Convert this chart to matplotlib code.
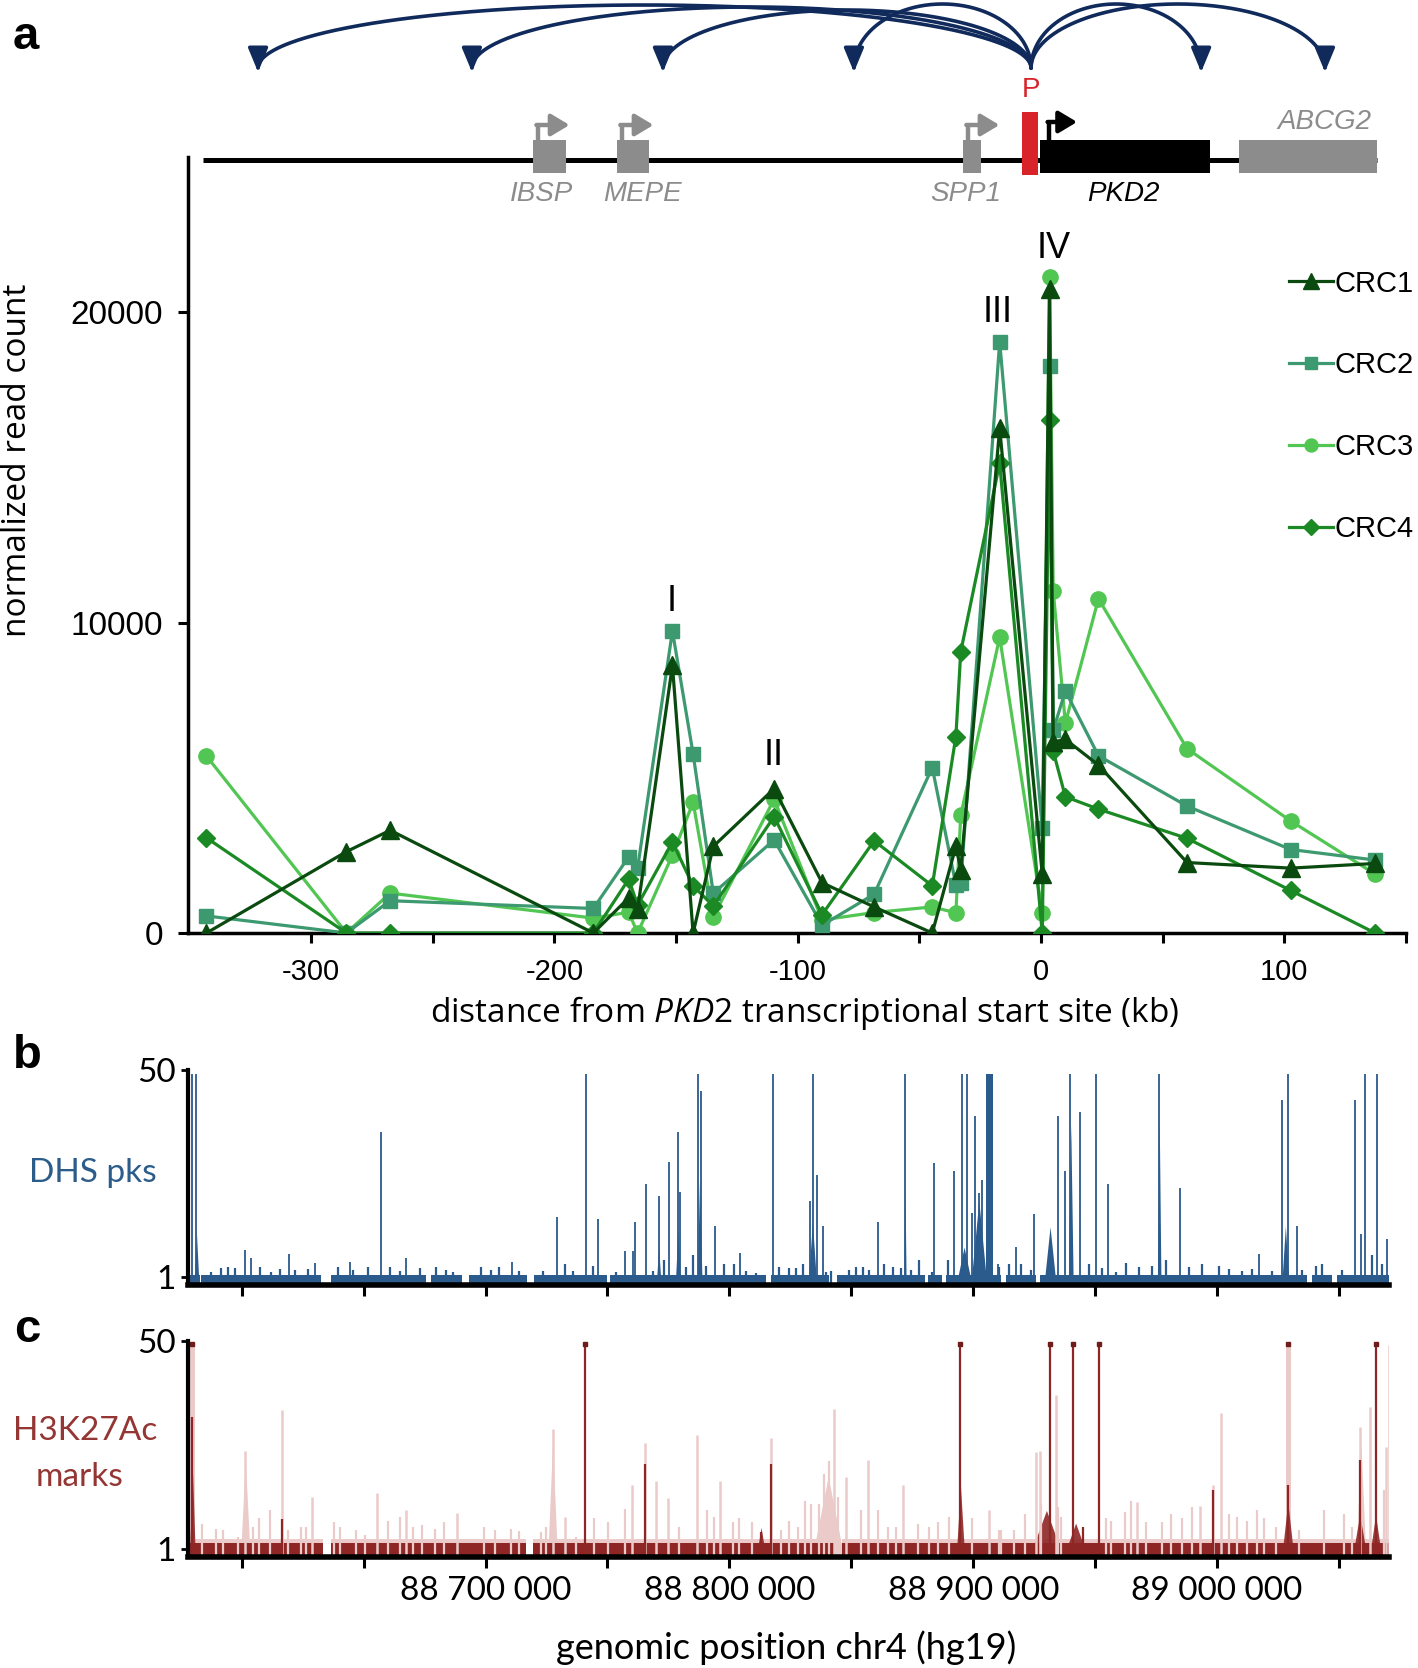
import matplotlib
matplotlib.use("Agg")
import matplotlib.pyplot as plt
import numpy as np
from matplotlib.lines import Line2D
from matplotlib.ticker import FixedLocator, FuncFormatter, NullFormatter

plt.rcParams['font.family'] = ['Liberation Sans', 'DejaVu Sans']
plt.rcParams['axes.unicode_minus'] = False
plt.rcParams['mathtext.fontset'] = 'custom'
plt.rcParams['mathtext.rm'] = 'Open Sans'
plt.rcParams['mathtext.it'] = 'Open Sans:italic'

# ---------------- data: panel a ----------------
dist_kb = [-343, -285.5, -267.5, -184, -169.5, -165.8, -151.5, -143, -134.7, -109.7,
           -90, -68.6, -44.7, -35, -33, -17, 0.5, 3.5, 5, 10, 23.6, 60, 102.6, 137.3]
crc1 = [0, 2620, 3310, 0, 1130, 770, 8620, 0, 2790, 4650, 1620, 840, 0, 2790, 2045,
        16260, 1900, 20750, 6150, 6240, 5410, 2270, 2090, 2240]
crc2 = [550, 0, 1040, 790, 2450, 2100, 9730, 5770, 1280, 3000, 250, 1250, 5330, 1550, 1600,
        19050, 3390, 18280, 6530, 7800, 5710, 4090, 2690, 2350]
crc3 = [5700, 0, 1285, 480, 670, 0, 2510, 4210, 520, 4310, 420, 660, 840, 650, 3790,
        9530, 650, 21150, 11030, 6760, 10770, 5940, 3610, 1900]
crc4 = [3065, 0, 0, 0, 1730, 900, 2930, 1520, 870, 3750, 590, 2970, 1520, 6330, 9060,
        15140, 0, 16520, 5860, 4390, 3990, 3050, 1370, 0]
series_names = ['CRC1', 'CRC2', 'CRC3', 'CRC4']

peak_labels = ['I', 'II', 'III', 'IV']
peak_label_x = [-152, -110, -17.7, 5]
peak_label_y = [10680, 5720, 20000, 22060]

# gene diagram (kb from PKD2 TSS)
gene_names = ['IBSP', 'MEPE', 'SPP1', 'PKD2', 'ABCG2']
gene_start = [-208.8, -174.3, -32.1, -0.4, 81.4]
gene_end = [-195.2, -161.1, -24.7, 69.5, 138.1]
gene_label_x = [-205.5, -164.0, -30.8, 34.0, 116.5]
gene_has_arrow = [True, True, True, True, False]
promoter_span = (-7.8, -1.2)
track_span = (-344.4, 138.1)
loop_source = -4.1
loop_targets = [-321.8, -233.9, -155.4, -76.9, 65.8, 116.7]
loop_tops = [5, 7, 10, 4, 4, 4]

# ---------------- data: panels b, c (kb on chr4 minus 88 000 kb) ----------------
dhs_bg_start = [578, 583.5, 636.8, 677.7, 693.4, 719.7, 751, 817, 844.1, 881.6, 888.9, 913.4, 927.2, 1039, 1049.2]
dhs_bg_end = [582.8, 632.7, 675.8, 690.5, 717.2, 749.7, 815, 840.7, 880.3, 887.2, 911.4, 925.8, 1037, 1047.1, 1070.5]
dhs_peak_pos = [579.6, 581.4, 601.5, 604, 619.3, 629.9, 644.3, 657, 667.2, 710.8, 729.4, 741.3, 746,
                757.3, 760.4, 761.5, 765.9, 771, 775.1, 778.8, 779.8, 787.3, 788.4, 794.3, 804.4,
                818, 833, 834.4, 835.9, 838.5, 860.8, 872, 884, 892.2, 895.4, 897.3, 899.5, 900.7,
                902.2, 903.6, 910, 917.5, 924.8, 934.7, 937.7, 939.8, 943.7, 950.3, 955.3, 976.2,
                984.8, 1017.2, 1026.8, 1029.2, 1032.7, 1056.6, 1059.1, 1060.7, 1065.5, 1069.5]
dhs_peak_val = [49, 49, 7.3, 5.3, 6.3, 4.3, 4.4, 35.4, 5.3, 4.4, 15.2, 49, 14.6,
                7, 7, 14, 23, 20, 28.2, 35.2, 21, 49, 45, 13, 6.5,
                49, 19, 49, 25, 13, 14, 49, 28, 26, 49, 49, 16, 39,
                20.8, 23.9, 4, 8, 15.8, 39, 26, 49, 40, 49, 23, 49,
                22, 6.3, 43, 49, 13, 43, 11, 49, 49, 10]
# broad enrichment envelopes (tent-shaped), and one saturated block
dhs_hump_start = [580.5, 770, 777.8, 786.8, 832.3, 871.5, 893, 899.0, 929.0, 939, 975.5, 1026.5]
dhs_hump_end = [582.5, 772, 780, 788.8, 835.8, 872.5, 899.5, 905.6, 934.0, 941, 977, 1029.5]
dhs_hump_val = [11, 8, 12, 25, 14, 23, 8, 19, 12.8, 37, 40, 13]
dhs_block = (905.2, 908.2, 49)
dhs_small_pos = [587.6, 591.7, 594.4, 597.1, 607.4, 612.2, 615.6, 621.7, 627.2, 639.5, 645.6, 651.8,
                 660.7, 664.8, 673, 679.8, 683.9, 686.6, 698.3, 702.3, 705.7, 713.9, 723.5, 732.4,
                 735.8, 744, 753.6, 768.6, 773.4, 782.3, 785, 790.5, 798, 802, 806.8, 810.9, 820.5,
                 824.6, 827.3, 830, 839.6, 841.7, 849.2, 851.9, 854.6, 857.4, 863.5, 866.9, 870.4,
                 874.5, 877.6, 883.3, 889.5, 910.7, 914.8, 919.5, 923.6, 947.5, 953, 958.5, 962.8,
                 968, 973.5, 979, 988.5, 994, 1000.8, 1004.9, 1010.4, 1014.5, 1022.7, 1035, 1040.4,
                 1043.2, 1051.4, 1063.7, 1067.8]
dhs_small_val = [2.2, 3.0, 3.2, 3.0, 3.2, 2.2, 2.7, 2.6, 2.7, 3.2, 2.6, 3.2,
                 3.2, 2.4, 3.0, 3.2, 2.6, 2.2, 3.2, 2.6, 3.2, 2.4, 2.4, 4.0,
                 2.4, 3.4, 2.0, 2.4, 4.9, 3.2, 6.1, 3.6, 3.9, 3.9, 2.4, 1.8, 3.2,
                 3.0, 3.0, 3.9, 2.2, 2.4, 2.6, 3.2, 3.2, 2.6, 3.9, 3.2, 3.0,
                 2.6, 4.9, 2.0, 4.9, 3.2, 3.9, 3.9, 2.6, 3.9, 3.0, 2.0, 4.2,
                 3.2, 3.4, 4.9, 3.2, 3.9, 3.4, 2.7, 2.4, 2.7, 2.4, 2.6, 3.4,
                 3.9, 2.6, 6.1, 3.9]

h3_bg_start = [578, 636.8, 719.4, 846]
h3_bg_end = [633.2, 716.7, 843.3, 1070.5]
h3_dark_pos = [579.5, 616.5, 740.8, 765.2, 812.9, 817.2, 894.7, 931.3, 941.1, 944.9, 951.4, 998.4,
               1029.2, 1058.6, 1065]
h3_dark_val = [32, 8, 49, 21, 5, 21, 49, 49, 49, 6, 49, 14.8, 16, 22, 49]
h3_dark_hump_start = [923, 937, 893.0, 1026.5, 1055.5, 1062.5, 811.0, 578.6]
h3_dark_hump_end = [937, 947, 896.5, 1031.5, 1061.5, 1067.5, 815.0, 581.0]
h3_dark_hump_val = [10, 7, 16, 12, 9, 9, 6, 20]
h3_sat_pos = [579.5, 740.8, 894.7, 931.3, 941.1, 951.4, 1029.2, 1065]
h3_pink_pos = [601.5, 616.5, 628.8, 655.5, 667.3, 688.5, 727.5, 732.6, 760.1, 765.2, 770, 774.9,
               786.9, 796.3, 817.2, 842.8, 847.8, 856.8, 871, 906.6, 933.9, 925.7, 927.5, 967,
               993.2, 998.4, 1001.8, 1058.6, 1062.6, 1069.2, 1070.5]
h3_pink_val = [24, 33.6, 13.2, 14, 10, 9.5, 29.3, 8.5, 16, 25.8, 17, 13,
               27.7, 17, 27, 34, 18, 22, 16, 10, 37.2, 23.8, 24, 12,
               11, 16, 33, 29.7, 34.4, 25, 49]
h3_pink_hump_start = [599.5, 725.5, 834, 1057]
h3_pink_hump_end = [603.5, 729.5, 847, 1061]
h3_pink_hump_val = [22, 26, 18, 26]
h3_pink_block_start = [578.3, 1028.2]
h3_pink_block_end = [580.8, 1030.5]
h3_small_pos = [583.7, 589.6, 592.3, 598.5, 604.6, 607, 611.5, 619, 624.5, 626.5, 637.7, 640.2,
                646.7, 650.4, 660, 664.8, 670.2, 674.1, 679.1, 682.8, 699.3, 703.7, 710.5, 713.9,
                722.8, 724.9, 737.2, 744.3, 750.1, 757, 779.2, 790.8, 793.9, 801.4, 803.8, 809.3,
                821.2, 824.3, 828, 831.1, 833.5, 836.9, 838.9, 841, 844.4, 854, 860.8, 864.9,
                868.3, 877.2, 882, 885.4, 890.2, 899.7, 910.7, 911.3, 916.8, 921.3, 927.7, 934.6,
                935.9, 954.4, 956.4, 962.3, 964.6, 970.8, 977.6, 981, 985.8, 989.9, 1004.9, 1008.3,
                1012.4, 1016.5, 1019.3, 1024.1, 1033.6, 1043.9, 1052, 1055.5, 1068.4]
h3_small_val = [6.9, 5.7, 5.3, 3.8, 6.1, 8.1, 10, 5.3, 6.1, 6.1, 7.3, 6.1,
                5.3, 4.1, 7.6, 8.4, 6.1, 6.5, 5.7, 7.3, 6.1, 5.3, 5.5, 5.1,
                4.9, 6.1, 3.8, 8.1, 7.3, 10.4, 6.1, 10, 8.4, 7.3, 8.1, 7.3,
                5.3, 7.6, 6.1, 12.3, 11.6, 11.6, 18.6, 21.6, 13.2, 10, 10, 6.1,
                6.1, 6.9, 6.1, 7.3, 8.4, 8.1, 5.3, 5.3, 5.3, 9.2, 11.6, 10.8,
                8.4, 8.1, 7.6, 9.6, 12.3, 7.3, 7.3, 9.2, 8.1, 10.8, 9.2, 8.4,
                7.6, 10, 8.1, 6.1, 5.3, 10, 9.2, 6.1, 14.8]

genome_ticks_major = [88700000, 88800000, 88900000, 89000000]
genome_ticks_minor = [88600000, 88650000, 88750000, 88850000, 88950000, 89050000]

# ---------------- figure ----------------
W, H = 1418, 1668
fig = plt.figure(figsize=(W / 100, H / 100), dpi=100)


def px_axes(x0, y0, x1, y1):
    return fig.add_axes([x0 / W, 1 - y1 / H, (x1 - x0) / W, (y1 - y0) / H])


XLIM_A = (-350.6, 150.0)
colors = {'CRC1': '#0a4a0f', 'CRC2': '#3d9970', 'CRC3': '#52c652', 'CRC4': '#1b8a24'}
markers = {'CRC1': ('^', 13), 'CRC2': ('s', 10.5), 'CRC3': ('o', 11), 'CRC4': ('D', 9)}
values = {'CRC1': crc1, 'CRC2': crc2, 'CRC3': crc3, 'CRC4': crc4}

ax = px_axes(188, 157, 1406, 933)
for name in ['CRC3', 'CRC2', 'CRC4', 'CRC1']:
    m, ms = markers[name]
    ax.plot(dist_kb, values[name], color=colors[name], lw=2.3, marker=m, ms=ms,
            mec=colors[name], mfc=colors[name], zorder=3)
ax.set_xlim(*XLIM_A)
ax.set_ylim(0, 25000)
for s in ['top', 'right']:
    ax.spines[s].set_visible(False)
for s in ['left', 'bottom']:
    ax.spines[s].set_linewidth(2.5)
ax.xaxis.set_major_locator(FixedLocator([-300, -200, -100, 0, 100]))
ax.xaxis.set_minor_locator(FixedLocator([-250, -150, -50, 50, 150]))
ax.yaxis.set_major_locator(FixedLocator([0, 10000, 20000]))
ax.tick_params(axis='both', which='both', direction='out', length=7, width=2.2,
               labelsize=21, colors='black')
ax.tick_params(axis='y', labelsize=24, pad=11)
ax.tick_params(axis='x', pad=11)
for t, x, y in zip(peak_labels, peak_label_x, peak_label_y):
    ax.text(x, y, t, ha='center', va='center', fontsize=26, color='black')

handles = []
for name in series_names:
    m, ms = markers[name]
    handles.append(Line2D([], [], color=colors[name], lw=2.3, marker=m, ms=ms * 0.85,
                          mec=colors[name], mfc=colors[name]))
ax.legend(handles, series_names, loc='upper left', bbox_to_anchor=(0.904, 0.855),
          frameon=False, fontsize=21, handlelength=1.5, handletextpad=0.05,
          labelspacing=1.85, borderaxespad=0, borderpad=0)

fig.text(805 / W, 1 - 1013 / H, 'distance from $\\mathit{PKD2}$ transcriptional start site (kb)',
         ha='center', va='center', fontsize=24, family='Open Sans')
fig.text(18 / W, 1 - 460 / H, 'normalized read count', rotation=90, ha='center', va='center',
         fontsize=24, family='Open Sans')

# ---------- gene diagram overlay ----------
axg = px_axes(188, 0, 1406, 200)
axg.set_xlim(*XLIM_A)
axg.set_ylim(200, 0)
axg.axis('off')
GRAY = '#8c8c8c'
NAVY = '#0f2a5b'
axg.plot(track_span, [160, 160], color='black', lw=3.6, solid_capstyle='butt', zorder=1)
for name, s, e, lx, arr in zip(gene_names, gene_start, gene_end, gene_label_x, gene_has_arrow):
    c = 'black' if name == 'PKD2' else GRAY
    axg.add_patch(plt.Rectangle((s, 140), e - s, 33, color=c, zorder=2, lw=0))
    if name == 'ABCG2':
        axg.text(lx, 122, name, ha='center', va='center', fontsize=20, style='italic', color=GRAY)
    else:
        axg.text(lx, 194, name, ha='center', va='center', fontsize=20, style='italic',
                 color=c)
    if arr:
        off, ln, yy = (3.7, 11.5, 122) if name == 'PKD2' else (2.0, 13.0, 125)
        xv = s + off
        axg.plot([xv, xv], [140, yy], color=c, lw=3.2, solid_capstyle='butt', zorder=2)
        axg.annotate('', xy=(xv + ln, yy), xytext=(xv - 0.6, yy),
                     arrowprops=dict(arrowstyle='-|>,head_length=0.5,head_width=0.3',
                                     color=c, lw=3.2, shrinkA=0, shrinkB=0,
                                     mutation_scale=22), zorder=2)
axg.add_patch(plt.Rectangle((promoter_span[0], 112), promoter_span[1] - promoter_span[0], 63,
                            color='#d8232a', lw=0, zorder=3))
axg.text(loop_source, 90, 'P', ha='center', va='center', fontsize=20, color='#d8232a')

base = 68
for xt, top in zip(loop_targets, loop_tops):
    xm = (xt + loop_source) / 2
    a = (xt - loop_source) / 2
    t = np.linspace(0, np.pi, 200)
    xs = xm - a * np.cos(t)
    ys = base - (base - top) * np.sin(t)
    axg.plot(xs, ys, color=NAVY, lw=2.6, solid_capstyle='round', clip_on=False)
    axg.annotate('', xy=(xt, 72), xytext=(xt, 56),
                 arrowprops=dict(arrowstyle='-|>,head_length=0.6,head_width=0.25',
                                 color=NAVY, lw=2.6, shrinkA=0, shrinkB=0, mutation_scale=24))

# ---------- track panels ----------
def bp(v):
    return 88_000_000 + np.asarray(v, dtype=float) * 1000.0


def tent(axt, s, e, v, color, alpha=1.0):
    axt.fill_between(bp([s, (s + e) / 2, e]), -1, [-1, v, -1], color=color, lw=0, alpha=alpha)


XLIM_G = (88_578_000, 89_070_500)


def style_track(axt, labels):
    axt.set_xlim(*XLIM_G)
    axt.set_ylim(-1, 50)
    for s in ['top', 'right']:
        axt.spines[s].set_visible(False)
    axt.spines['left'].set_linewidth(3)
    axt.spines['bottom'].set_linewidth(4)
    axt.xaxis.set_major_locator(FixedLocator(genome_ticks_major))
    axt.xaxis.set_minor_locator(FixedLocator(genome_ticks_minor))
    axt.yaxis.set_major_locator(FixedLocator([1, 50]))
    axt.tick_params(axis='x', which='both', direction='out', length=8, width=2.2,
                    labelsize=24, pad=6)
    axt.tick_params(axis='y', direction='out', length=5, width=2, labelsize=24, pad=4)
    for lab in axt.get_yticklabels():
        lab.set_family('Lato')
    if labels:
        axt.xaxis.set_major_formatter(FuncFormatter(lambda v, p: f"{int(v):,}".replace(',', ' ')))
        for lab in axt.get_xticklabels():
            lab.set_family('Lato')
    else:
        axt.xaxis.set_major_formatter(NullFormatter())


BLUE = '#2b5b8c'
axb = px_axes(188, 1070, 1389, 1285)
for s, e in zip(dhs_bg_start, dhs_bg_end):
    axb.fill_between(bp([s, e]), -1, 1.4, color=BLUE, lw=0)
for s, e, v in zip(dhs_hump_start, dhs_hump_end, dhs_hump_val):
    tent(axb, s, e, v, BLUE)
axb.fill_between(bp(dhs_block[:2]), -1, dhs_block[2], color=BLUE, lw=0)
axb.vlines(bp(dhs_small_pos), -1, dhs_small_val, color=BLUE, lw=1.6)
axb.vlines(bp(dhs_peak_pos), -1, dhs_peak_val, color=BLUE, lw=1.3)
style_track(axb, False)

PINK = '#ebcaca'
DARK = '#8e2626'
axc = px_axes(188, 1341, 1389, 1557)
for s, e in zip(h3_bg_start, h3_bg_end):
    axc.fill_between(bp([s, e]), -1, 3.2, color=PINK, lw=0)
for s, e, v in zip(h3_pink_hump_start, h3_pink_hump_end, h3_pink_hump_val):
    tent(axc, s, e, v, PINK)
for s, e in zip(h3_pink_block_start, h3_pink_block_end):
    axc.fill_between(bp([s, e]), -1, 49, color=PINK, lw=0)
axc.vlines(bp(h3_small_pos), -1, h3_small_val, color=PINK, lw=1.6)
axc.vlines(bp(h3_pink_pos), -1, h3_pink_val, color=PINK, lw=1.8)
for s, e in zip(h3_bg_start, h3_bg_end):
    axc.fill_between(bp([s, e]), -1, 2.4, color=DARK, lw=0)
for s, e, v in zip(h3_dark_hump_start, h3_dark_hump_end, h3_dark_hump_val):
    tent(axc, s, e, v, DARK, alpha=0.9)
axc.vlines(bp(h3_dark_pos), -1, h3_dark_val, color=DARK, lw=1.6)
axc.plot(bp(h3_sat_pos), [49.3] * len(h3_sat_pos), ls='none', marker='s', ms=3.5,
         color='#6e1c1c', clip_on=False)
style_track(axc, True)

fig.text(93 / W, 1 - 1173 / H, 'DHS pks', ha='center', va='center', fontsize=24,
         family='Lato', color='#2c5c8a')
fig.text(85 / W, 1 - 1431 / H, 'H3K27Ac', ha='center', va='center', fontsize=24,
         family='Lato', color='#943634')
fig.text(80 / W, 1 - 1477 / H, 'marks', ha='center', va='center', fontsize=24,
         family='Lato', color='#943634')
fig.text(786 / W, 1 - 1648 / H, 'genomic position chr4 (hg19)', ha='center', va='center',
         fontsize=26, family='Lato')

for lab, (x, y) in zip(['a', 'b', 'c'], [(26, 37), (27, 1056), (27, 1330)]):
    fig.text(x / W, 1 - y / H, lab, ha='center', va='center', fontsize=34, weight='bold')

fig.savefig('out.png', dpi=100)
